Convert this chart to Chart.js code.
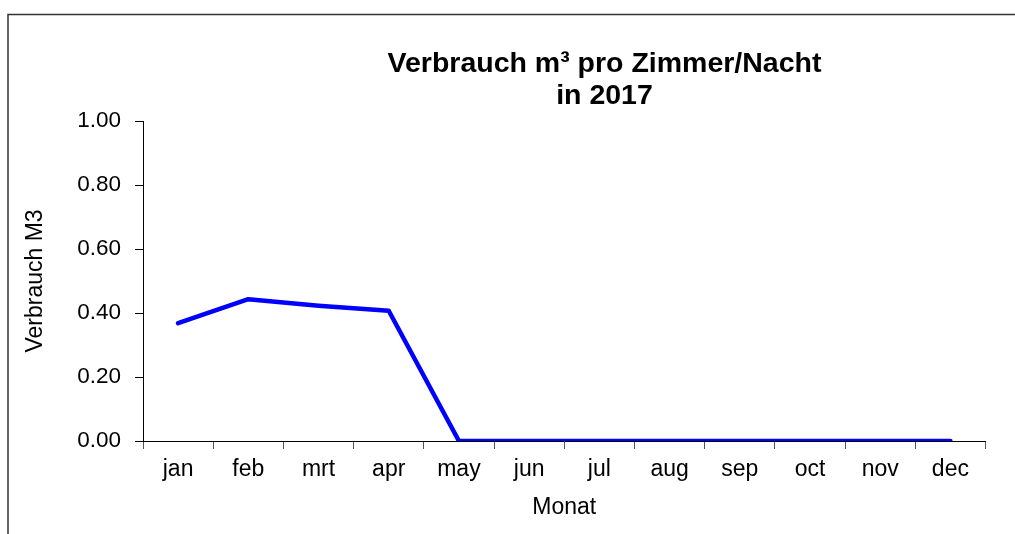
<!DOCTYPE html>
<html>
<head>
<meta charset="utf-8">
<script src="https://cdn.jsdelivr.net/npm/chart.js@4/dist/chart.umd.min.js"></script>
<style>
  html, body { margin: 0; padding: 0; background: #fff; }
  #wrap { position: relative; width: 1015px; height: 534px; }
</style>
</head>
<body>
<div id="wrap"><canvas id="c" width="1015" height="534"></canvas></div>
<script>
const months = ['jan','feb','mrt','apr','may','jun','jul','aug','sep','oct','nov','dec'];
const consumption = [0.368, 0.443, 0.423, 0.407, 0, 0, 0, 0, 0, 0, 0, 0];
const yTicks = [0, 0.2, 0.4, 0.6, 0.8, 1.0];
const titleLines = ['Verbrauch m\u00B3 pro Zimmer/Nacht', 'in 2017'];
const xTitle = 'Monat';
const yTitle = 'Verbrauch M3';

const FONT = "'Liberation Sans', Arial, sans-serif";

const framePlugin = {
  id: 'frame',
  beforeDraw(chart) {
    const ctx = chart.ctx;
    ctx.save();
    ctx.strokeStyle = '#333';
    ctx.lineWidth = 1.5;
    ctx.beginPath();
    ctx.moveTo(8, chart.height + 2);
    ctx.lineTo(8, 14.5);
    ctx.lineTo(chart.width + 2, 14.5);
    ctx.stroke();
    ctx.restore();
  }
};

const titlePlugin = {
  id: 'twoLineTitle',
  afterDraw(chart) {
    const ctx = chart.ctx;
    ctx.save();
    ctx.fillStyle = '#000';
    ctx.font = "bold 28.5px " + FONT;
    ctx.textAlign = 'center';
    ctx.textBaseline = 'alphabetic';
    const cx = 604.5;
    ctx.fillText(titleLines[0], cx, 72);
    ctx.fillText(titleLines[1], cx, 104);
    ctx.restore();
  }
};

new Chart(document.getElementById('c'), {
  type: 'line',
  data: {
    labels: months,
    datasets: [{
      data: consumption,
      borderColor: '#0000FF',
      borderWidth: 4.5,
      pointRadius: 0,
      tension: 0,
      fill: false,
      borderCapStyle: 'round',
      borderJoinStyle: 'round'
    }]
  },
  options: {
    responsive: false,
    animation: false,
    devicePixelRatio: 1,
    layout: { padding: { top: 121, right: 29.5, bottom: 0, left: 0 } },
    plugins: {
      legend: { display: false },
      title: { display: false },
      tooltip: { enabled: false }
    },
    scales: {
      x: {
        type: 'category',
        offset: true,
        grid: {
          offset: true,
          drawOnChartArea: false,
          drawTicks: true,
          tickLength: 8,
          color: '#555'
        },
        border: { display: true, color: '#000', width: 1 },
        ticks: {
          color: '#000',
          font: { family: FONT, size: 23 },
          padding: 7,
          maxRotation: 0,
          autoSkip: false
        },
        title: {
          display: true,
          text: xTitle,
          color: '#000',
          font: { family: FONT, size: 23 },
          padding: { top: 0, bottom: 13 }
        },
        afterFit(scale) { scale.height = 93; }
      },
      y: {
        min: 0,
        max: 1,
        afterBuildTicks(scale) { scale.ticks = yTicks.map(v => ({ value: v })); },
        grid: {
          drawOnChartArea: false,
          drawTicks: true,
          tickLength: 8,
          color: '#000'
        },
        border: { display: true, color: '#000', width: 1 },
        ticks: {
          color: '#000',
          font: { family: FONT, size: 22.5 },
          padding: 14,
          callback: v => Number(v).toFixed(2)
        },
        title: {
          display: true,
          text: yTitle,
          color: '#000',
          font: { family: FONT, size: 23 },
          padding: { top: 22, bottom: 0 }
        },
        afterFit(scale) { scale.width = 143; }
      }
    }
  },
  plugins: [framePlugin, titlePlugin]
});
</script>
</body>
</html>
